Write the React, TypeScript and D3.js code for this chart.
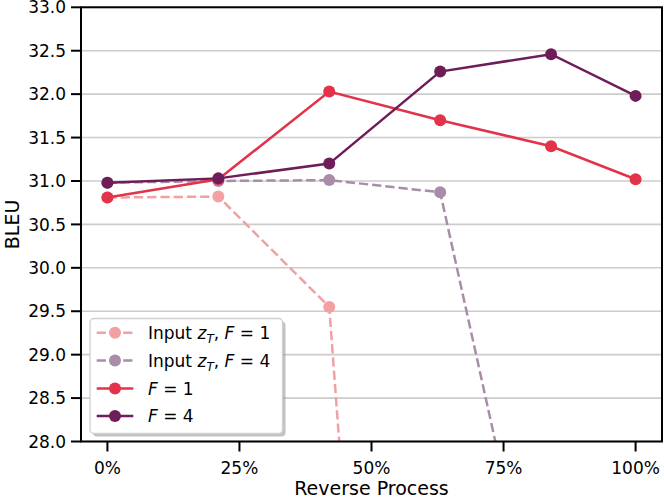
import React from "react";
import * as d3 from "d3";

const xValues = [0, 0.21, 0.42, 0.63, 0.84, 1.0];
const inputF1 = [30.81, 30.82, 29.55, 12.3];
const inputF4 = [30.98, 31.0, 31.01, 30.87, 25.1];
const f1 = [30.81, 31.02, 32.03, 31.7, 31.4, 31.02];
const f4 = [30.98, 31.03, 31.2, 32.26, 32.46, 31.98];
const yTicks = [28.0, 28.5, 29.0, 29.5, 30.0, 30.5, 31.0, 31.5, 32.0, 32.5, 33.0];
const xTicks = [0, 0.25, 0.5, 0.75, 1.0];

const series = [
  { key: "in1", values: inputF1, color: "#f2a0a2", dashed: true, label: "F1in" },
  { key: "in4", values: inputF4, color: "#a98ca7", dashed: true, label: "F4in" },
  { key: "f1", values: f1, color: "#e2334a", dashed: false, label: "F1" },
  { key: "f4", values: f4, color: "#6e1d58", dashed: false, label: "F4" },
];

const W = 664;
const H = 497;
const L = 81, R = 662, T = 7.3, B = 441.5;
const FONT = "DejaVu Sans, sans-serif";

export default function App() {
  const x = d3.scaleLinear().domain([-0.05, 1.05]).range([L, R]);
  const y = d3.scaleLinear().domain([28, 33]).range([B, T]);
  const line = d3
    .line<number>()
    .x((_, i) => x(xValues[i]))
    .y((d) => y(d));

  const legendX = 90, legendY = 318.5, legendW = 192.5, legendH = 115;
  const rowY = [332.7, 360.5, 388.4, 416];

  const legendLabel = (k: string) => {
    if (k === "F1in" || k === "F4in") {
      return (
        <>
          <tspan>Input </tspan>
          <tspan fontStyle="italic">z</tspan>
          <tspan fontStyle="italic" fontSize={12} dy={4}>T</tspan>
          <tspan dy={-4}>, </tspan>
          <tspan fontStyle="italic">F</tspan>
          <tspan> = {k === "F1in" ? "1" : "4"}</tspan>
        </>
      );
    }
    return (
      <>
        <tspan fontStyle="italic">F</tspan>
        <tspan> = {k === "F1" ? "1" : "4"}</tspan>
      </>
    );
  };

  return (
    <svg
      width={W}
      height={H}
      style={{ position: "absolute", left: 0, top: 0, background: "#fff" }}
      fontFamily={FONT}
    >
      <defs>
        <clipPath id="plot">
          <rect x={L} y={T} width={R - L} height={B - T} />
        </clipPath>
      </defs>
      <rect x={0} y={0} width={W} height={H} fill="#fff" />
      {/* grid */}
      {yTicks.map((t) => (
        <line key={t} x1={L} x2={R} y1={y(t)} y2={y(t)} stroke="#cccccc" strokeWidth={1.6} />
      ))}
      {/* series */}
      <g clipPath="url(#plot)">
        {series.map((s) => (
          <g key={s.key}>
            <path
              d={line(s.values) || ""}
              fill="none"
              stroke={s.color}
              strokeWidth={2.5}
              strokeDasharray={s.dashed ? "9.25 4" : undefined}
            />
            {s.values.map((v, i) => (
              <circle key={i} cx={x(xValues[i])} cy={y(v)} r={6} fill={s.color} />
            ))}
          </g>
        ))}
      </g>
      {/* spines */}
      <rect x={L} y={T} width={R - L} height={B - T} fill="none" stroke="#000" strokeWidth={2} />
      {/* y ticks */}
      {yTicks.map((t) => (
        <g key={t}>
          <line x1={L - 10} x2={L} y1={y(t)} y2={y(t)} stroke="#000" strokeWidth={2} />
          <text x={L - 15} y={y(t)} dy="0.36em" textAnchor="end" fontSize={17}>
            {d3.format(".1f")(t)}
          </text>
        </g>
      ))}
      {/* x ticks */}
      {xTicks.map((t) => (
        <g key={t}>
          <line x1={x(t)} x2={x(t)} y1={B} y2={B + 10} stroke="#000" strokeWidth={2} />
          <text x={x(t)} y={473.5} textAnchor="middle" fontSize={17}>
            {d3.format(".0%")(t)}
          </text>
        </g>
      ))}
      <text x={(L + R) / 2} y={494.5} textAnchor="middle" fontSize={19}>
        Reverse Process
      </text>
      <text
        transform={`translate(18.5, ${(T + B) / 2}) rotate(-90)`}
        textAnchor="middle"
        fontSize={19}
      >
        BLEU
      </text>
      {/* legend */}
      <rect x={legendX + 3} y={legendY + 3} width={legendW} height={legendH} rx={4} fill="#999" opacity={0.6} />
      <rect x={legendX} y={legendY} width={legendW} height={legendH} rx={4} fill="#fff" stroke="#d0d0d0" strokeWidth={1.3} />
      {series.map((s, i) => (
        <g key={s.key}>
          <line
            x1={96.7}
            x2={133.3}
            y1={rowY[i]}
            y2={rowY[i]}
            stroke={s.color}
            strokeWidth={2.5}
            strokeDasharray={s.dashed ? "9.25 4" : undefined}
            strokeDashoffset={s.dashed ? 0 : undefined}
          />
          <circle cx={115} cy={rowY[i]} r={6} fill={s.color} />
          <text x={148} y={rowY[i]} dy="0.36em" fontSize={17}>
            {legendLabel(s.label)}
          </text>
        </g>
      ))}
    </svg>
  );
}
